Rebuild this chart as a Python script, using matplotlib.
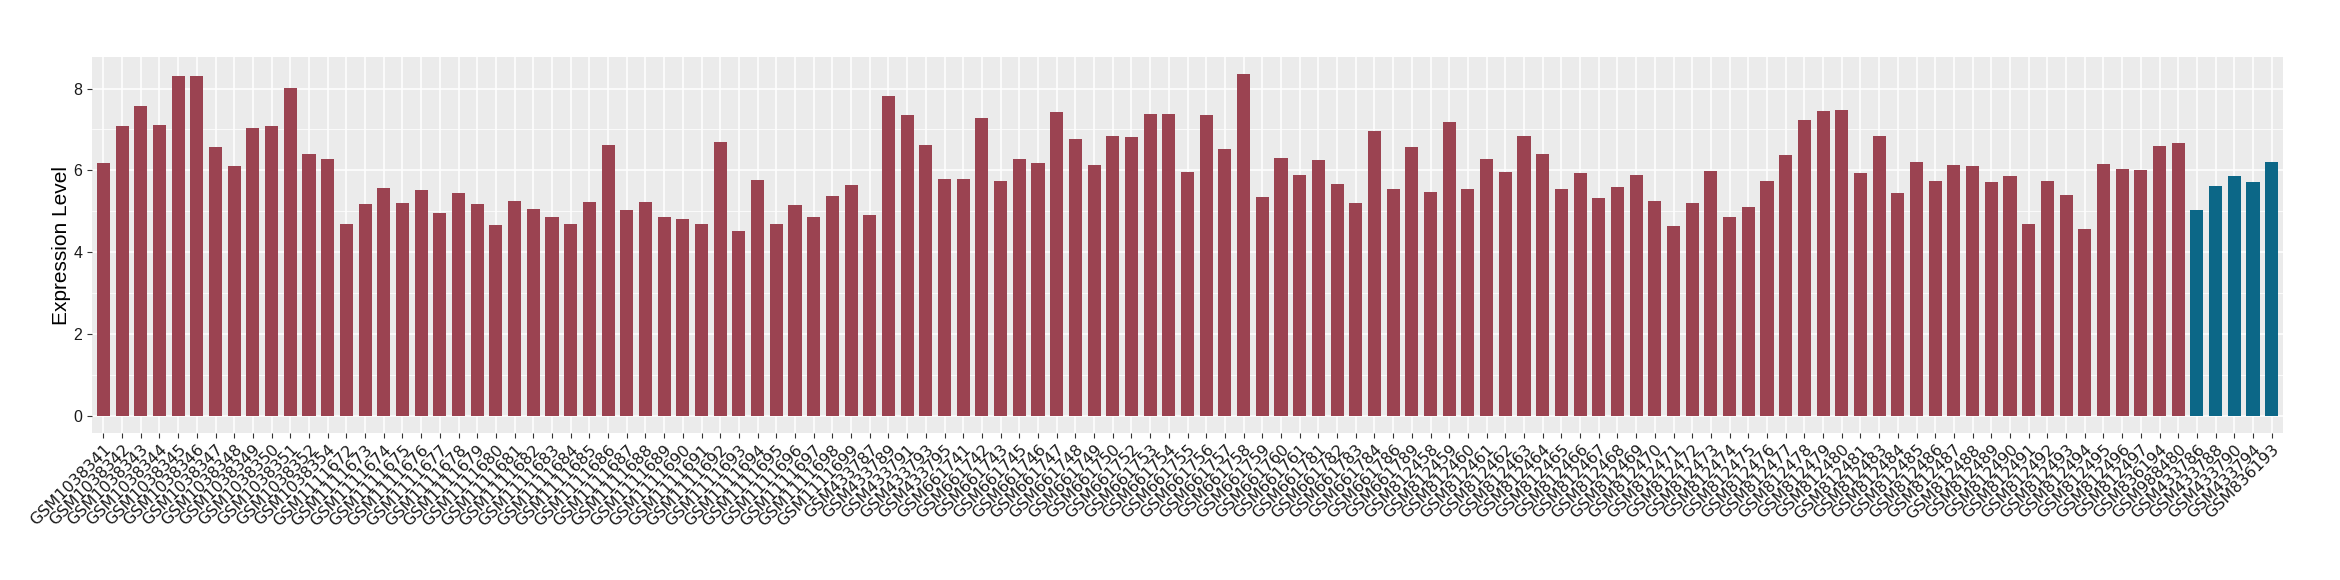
import matplotlib
matplotlib.use("Agg")
import matplotlib.pyplot as plt
from matplotlib.ticker import MultipleLocator

samples = (
    ["GSM10383%d" % n for n in [41, 42, 43, 44, 45, 46, 47, 48, 49, 50, 51, 52, 54]]
    + ["GSM1111%d" % n for n in range(672, 700)]
    + ["GSM4337%d" % n for n in [87, 89, 91, 93, 95]]
    + ["GSM661%d" % n for n in [741, 742, 743, 745, 746, 747, 748, 749, 750, 752,
                                753, 754, 755, 756, 757, 758, 759, 760, 761, 781,
                                782, 783, 784, 786, 789]]
    + ["GSM812%d" % n for n in range(458, 498) if n != 482]
    + ["GSM836194", "GSM988480"]
    + ["GSM433786", "GSM433788", "GSM433790", "GSM433794", "GSM836193"]
)

values = [
    6.17, 7.08, 7.57, 7.10, 8.30, 8.30, 6.57, 6.10, 7.03, 7.08, 8.01, 6.40, 6.27,
    4.69, 5.17, 5.57, 5.20, 5.52, 4.96, 5.44, 5.17, 4.66, 5.25, 5.05, 4.86, 4.69,
    5.22, 6.62, 5.03, 5.22, 4.86, 4.81, 4.69, 6.69, 4.52, 5.76, 4.69, 5.15, 4.86,
    5.37, 5.64,
    4.91, 7.81, 7.35, 6.62, 5.79,
    5.79, 7.27, 5.74, 6.27, 6.18, 7.42, 6.76, 6.13, 6.83, 6.81, 7.37, 7.37, 5.96,
    7.35, 6.52, 8.35, 5.35, 6.30, 5.88, 6.25, 5.66, 5.20, 6.96, 5.54, 6.57,
    5.47, 7.18, 5.54, 6.27, 5.96, 6.83, 6.40, 5.54, 5.93, 5.32, 5.59, 5.88, 5.25,
    4.64, 5.20, 5.98, 4.86, 5.10, 5.74, 6.37, 7.23, 7.44, 7.47, 5.93, 6.83, 5.44,
    6.20, 5.74, 6.13, 6.10, 5.71, 5.86, 4.69, 5.74, 5.39, 4.56, 6.15, 6.03, 6.00,
    6.59, 6.66,
    5.03, 5.61, 5.86, 5.71, 6.20,
]

groups = ["tumor"] * 112 + ["normal"] * 5
palette = {"tumor": "#9B4351", "normal": "#0C6787"}

fig = plt.figure(figsize=(23.4, 5.8), dpi=100)
ax = fig.add_axes([0.0394, 0.2534, 0.9362, 0.6483])
ax.set_facecolor("#EBEBEB")

x = list(range(len(samples)))
ax.bar(x, values, width=0.7, color=[palette[g] for g in groups], zorder=3)

ax.set_xlim(-0.6, len(samples) - 0.4)
ax.set_ylim(-0.42, 8.77)
ax.yaxis.set_major_locator(MultipleLocator(2))
ax.yaxis.set_minor_locator(MultipleLocator(1))
ax.grid(which="major", color="white", linewidth=1.1, zorder=0)
ax.grid(which="minor", axis="y", color="white", linewidth=0.55, zorder=0)
ax.set_axisbelow(True)
for s in ax.spines.values():
    s.set_visible(False)

ax.set_xticks(x)
ax.set_xticklabels(samples, rotation=45, ha="right", va="top",
                   rotation_mode="anchor", fontsize=11.5, color="#1A1A1A",
                   family="DejaVu Sans")
ax.tick_params(axis="both", which="major", length=3.5, width=0.8, color="#333333")
ax.tick_params(axis="y", which="minor", length=0)
ax.tick_params(axis="x", pad=3)
for lab in ax.get_yticklabels():
    lab.set_family("Liberation Sans")
    lab.set_fontsize(11.5)
    lab.set_color("#1A1A1A")

ax.set_ylabel("Expression Level", fontsize=15, family="Liberation Sans", labelpad=2)

fig.savefig("out.png", dpi=100)
